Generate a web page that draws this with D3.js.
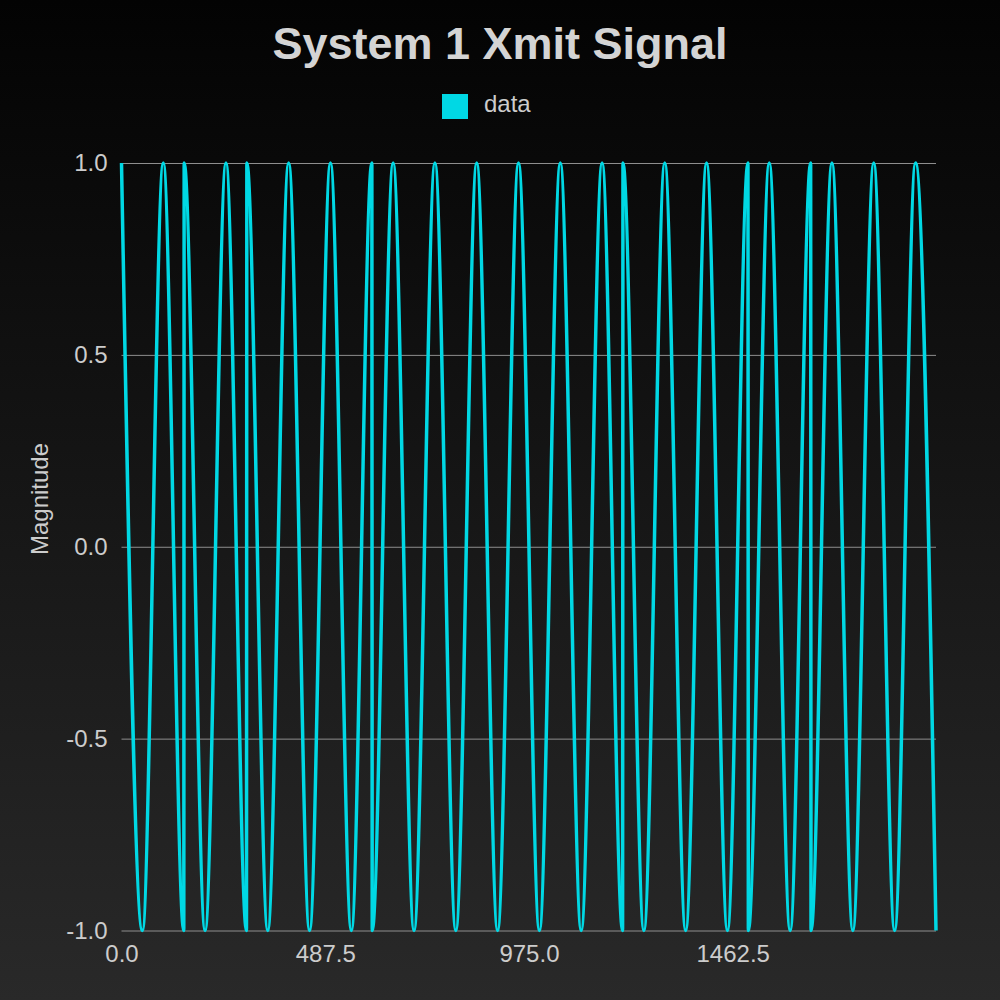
<!DOCTYPE html>
<html lang="en">
<head>
    <meta charset="UTF-8">
    <title>System 1 Xmit Signal</title>
    <script src="https://d3js.org/d3.v7.min.js"></script>
    <style>
        body {
            margin: 0;
            padding: 0;
            background: #000;
        }

        svg text {
            font-family: "Liberation Sans", Arial, sans-serif;
        }
    </style>
</head>
<body>
    <div id="chart"></div>

    <script>
        // Extremes of the transmitted wave (sample index, magnitude).
        // Where the phase flips, two points sit one sample apart.
        const sampleIndex = [
            0, 50, 100, 149, 150, 200, 250, 299, 300, 350,
            400, 450, 500, 550, 599, 600, 650, 700, 750, 800,
            850, 900, 950, 1000, 1050, 1100, 1150, 1199, 1200, 1250,
            1300, 1350, 1400, 1450, 1499, 1500, 1550, 1600, 1649, 1650,
            1700, 1750, 1800, 1850, 1900, 1949
        ];
        const magnitude = [
            1, -1, 1, -1, 1, -1, 1, -1, 1, -1,
            1, -1, 1, -1, 1, -1, 1, -1, 1, -1,
            1, -1, 1, -1, 1, -1, 1, -1, 1, -1,
            1, -1, 1, -1, 1, -1, 1, -1, 1, -1,
            1, -1, 1, -1, 1, -1
        ];
        const xTicks = [0, 487.5, 975, 1462.5];
        const yTicks = [-1, -0.5, 0, 0.5, 1];
        const seriesName = "data";

        const lineColor = "#00d8e4";
        const margin = { top: 163, right: 64, bottom: 69.5, left: 121.5 },
              width = 1000 - margin.left - margin.right,
              height = 1000 - margin.top - margin.bottom;

        // plain hyphen for negatives, like the original
        const fmt = d => d3.format(".1f")(d).replace("\u2212", "-");

        const svg = d3.select("#chart")
            .append("svg")
            .attr("width", 1000)
            .attr("height", 1000);

        // background gradient, dark at the top, a little lighter at the bottom
        const grad = svg.append("defs")
            .append("linearGradient")
            .attr("id", "bg")
            .attr("x1", 0).attr("y1", 0)
            .attr("x2", 0).attr("y2", 1);
        grad.append("stop").attr("offset", "0%").attr("stop-color", "#030303");
        grad.append("stop").attr("offset", "100%").attr("stop-color", "#292929");

        svg.append("rect")
            .attr("width", 1000)
            .attr("height", 1000)
            .attr("fill", "url(#bg)");

        // title
        svg.append("text")
            .attr("x", 500)
            .attr("y", 59)
            .attr("text-anchor", "middle")
            .attr("font-size", 45)
            .attr("font-weight", "bold")
            .attr("fill", "#d4d4d4")
            .text("System 1 Xmit Signal");

        // legend
        svg.append("rect")
            .attr("x", 442)
            .attr("y", 94)
            .attr("width", 26)
            .attr("height", 25)
            .attr("fill", lineColor);

        svg.append("text")
            .attr("x", 484)
            .attr("y", 112)
            .attr("font-size", 24)
            .attr("fill", "#cccccc")
            .text(seriesName);

        // y axis title
        svg.append("text")
            .attr("transform", "translate(48,499) rotate(-90)")
            .attr("text-anchor", "middle")
            .attr("font-size", 24)
            .attr("fill", "#cccccc")
            .text("Magnitude");

        const g = svg.append("g")
            .attr("transform", `translate(${margin.left},${margin.top})`);

        const x = d3.scaleLinear()
            .domain([0, d3.max(sampleIndex)])
            .range([0, width]);

        const y = d3.scaleLinear()
            .domain([-1, 1])
            .range([height, 0]);

        // y axis with horizontal grid lines
        const yAxis = g.append("g")
            .call(d3.axisLeft(y)
                .tickValues(yTicks)
                .tickFormat(fmt)
                .tickSize(-width)
                .tickPadding(14));
        yAxis.select(".domain").remove();
        yAxis.selectAll(".tick line")
            .attr("stroke", "#8e8e8e")
            .attr("stroke-width", 1);
        yAxis.selectAll(".tick text")
            .attr("font-size", 24)
            .attr("fill", "#cccccc");

        // x axis, labels only
        const xAxis = g.append("g")
            .attr("transform", `translate(0,${height})`)
            .call(d3.axisBottom(x)
                .tickValues(xTicks)
                .tickFormat(fmt)
                .tickSize(0)
                .tickPadding(14.5));
        xAxis.select(".domain").remove();
        xAxis.selectAll(".tick text")
            .attr("font-size", 24)
            .attr("fill", "#cccccc");

        const points = sampleIndex.map((n, i) => ({ n: n, v: magnitude[i] }));

        const line = d3.line()
            .x(d => x(d.n))
            .y(d => y(d.v))
            .curve(d3.curveMonotoneX);

        g.append("path")
            .datum(points)
            .attr("fill", "none")
            .attr("stroke", lineColor)
            .attr("stroke-width", 3.5)
            .attr("stroke-linejoin", "round")
            .attr("d", line);
    </script>
</body>
</html>
